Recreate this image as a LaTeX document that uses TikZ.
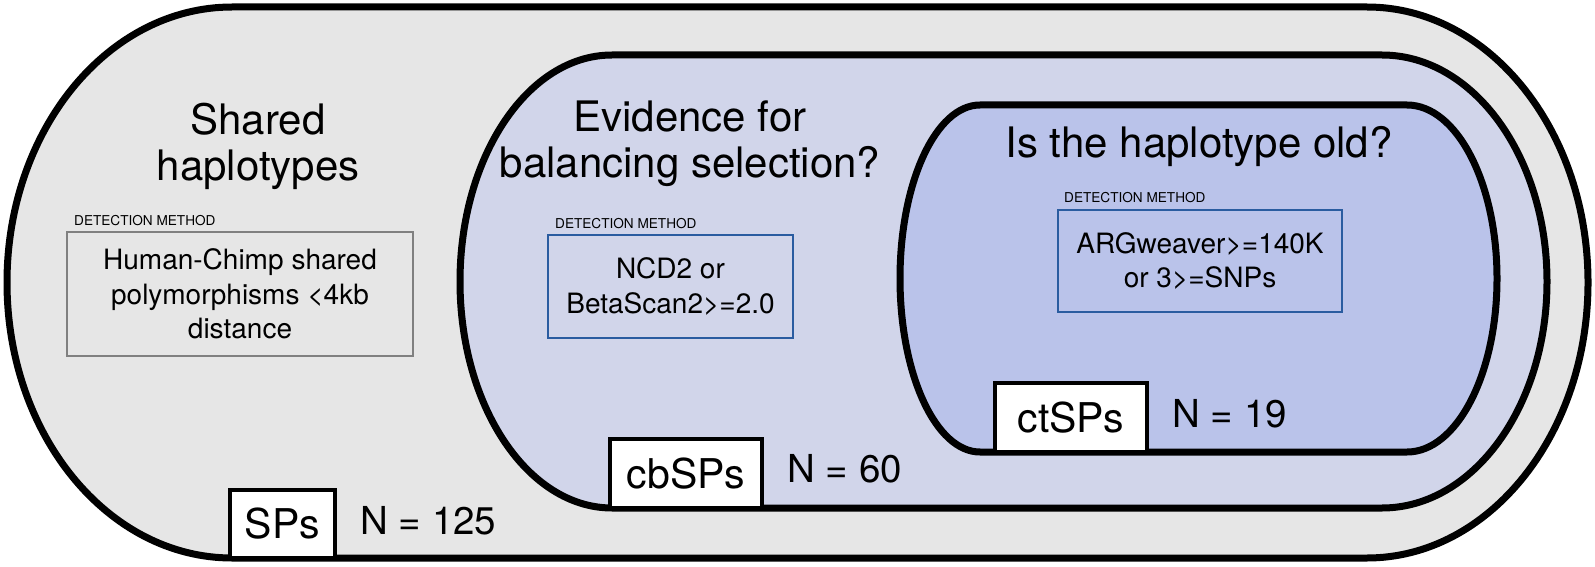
\documentclass[tikz,border=0pt]{standalone}
\usepackage{fontspec}
\setmainfont{TeX Gyre Heros}
\usetikzlibrary{positioning}

\definecolor{shellgray}{HTML}{E6E6E6}
\definecolor{balpurple}{HTML}{D1D5EA}
\definecolor{oldblue}{HTML}{BAC3EA}
\definecolor{methodblue}{HTML}{2A5CA0}
\definecolor{methodgray}{HTML}{808080}

\begin{document}
\begin{tikzpicture}[%
    x=1pt, y=1pt,
    shell/.style={draw=black, line width=7pt},
    title/.style={align=center, inner sep=0pt, font=\fontsize{42}{46}\selectfont},
    method/.style={draw=methodblue, line width=2pt, align=center, inner sep=0pt,
        font=\fontsize{28}{34.5}\selectfont},
    methodtag/.style={inner sep=0pt, font=\fontsize{13.6}{15}\selectfont},
    tag/.style={draw=black, fill=white, line width=4.5pt, inner sep=0pt,
        minimum width=152pt, minimum height=69pt, font=\fontsize{41}{45}\selectfont},
    count/.style={inner sep=0pt, font=\fontsize{38.5}{42}\selectfont}
    ]

    \fill[white] (0,0) rectangle (1595,566);
    \useasboundingbox (0,0) rectangle (1595,566);

    % shells
    \draw[shell, fill=shellgray] (232,559) -- (1367,559)
        arc[start angle=90, end angle=-90, x radius=221, y radius=275.5]
        -- (232,8) arc[start angle=270, end angle=90, x radius=225, y radius=275.5] -- cycle;
    \draw[shell, fill=balpurple] (612,511) -- (1382,511)
        arc[start angle=90, end angle=-90, x radius=165, y radius=226.5]
        -- (612,58) arc[start angle=270, end angle=90, x radius=152, y radius=226.5] -- cycle;
    \draw[shell, fill=oldblue] (980,461) -- (1407,461)
        arc[start angle=90, end angle=-90, x radius=90, y radius=173.5]
        -- (980,114) arc[start angle=270, end angle=90, x radius=80, y radius=173.5] -- cycle;

    % titles
    \node[title] (shared) at (258,419.5) {Shared\\haplotypes};
    \node[title] (balance) at (690,422) {Evidence for\\balancing selection?};
    \node[title, anchor=base] (old) at (1199,408) {Is the haplotype old?};

    % detection methods
    \node[method, draw=methodgray, minimum width=346pt, minimum height=124pt] (m1)
        at (240,272) {Human-Chimp shared\\polymorphisms <4kb\\distance};
    \node[method, minimum width=245pt, minimum height=103pt] (m2)
        at (670.5,279.5) {NCD2 or\\BetaScan2>=2.0};
    \node[method, minimum width=284pt, minimum height=102pt] (m3)
        at (1200,305) {ARGweaver>=140K\\or 3>=SNPs};

    \node[methodtag, above right=5pt and 8pt of m1.north west] (t1) {DETECTION METHOD};
    \node[methodtag, above right=5pt and 8pt of m2.north west] (t2) {DETECTION METHOD};
    \node[methodtag, above right=6pt and 7pt of m3.north west] (t3) {DETECTION METHOD};

    % sets
    \node[tag, minimum width=105pt, minimum height=68pt] (sp) at (282.5,42) {SPs};
    \node[tag] (cb) at (686,92.5) {cbSPs};
    \node[tag] (ct) at (1071,148.5) {ctSPs};

    \node[count, right=23pt of sp, yshift=3pt] (nsp) {N = 125};
    \node[count, right=23pt of cb, yshift=4.5pt] (ncb) {N = 60};
    \node[count, right=23pt of ct, yshift=3.5pt] (nct) {N = 19};

\end{tikzpicture}
\end{document}
